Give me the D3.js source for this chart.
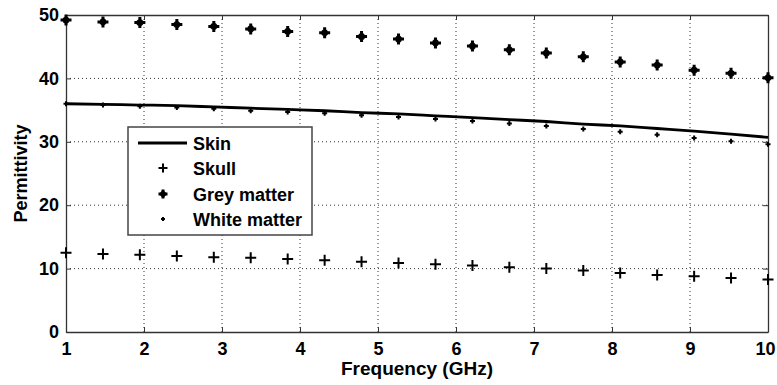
<!DOCTYPE html>
<html>
<head>
<meta charset="utf-8">
<script src="https://cdn.jsdelivr.net/npm/d3@7"></script>
<style>
  body { margin: 0; background: #fff; }
  text { font-family: Arial, "Liberation Sans", sans-serif; font-weight: bold; fill: #000; }
</style>
</head>
<body>
<svg id="chart" width="777" height="385"></svg>
<script>
// data (20 frequencies, 1..10 GHz)
const freqs = [1, 1.474, 1.947, 2.421, 2.895, 3.368, 3.842, 4.316, 4.789, 5.263,
               5.737, 6.211, 6.684, 7.158, 7.632, 8.105, 8.579, 9.053, 9.526, 10];
const skin = [36.0, 35.9, 35.8, 35.7, 35.5, 35.3, 35.1, 34.9, 34.6, 34.4,
              34.1, 33.8, 33.5, 33.2, 32.8, 32.5, 32.1, 31.7, 31.2, 30.7];
const skull = [12.5, 12.3, 12.2, 12.0, 11.8, 11.7, 11.5, 11.3, 11.1, 10.9,
               10.7, 10.5, 10.2, 10.0, 9.7, 9.3, 9.0, 8.8, 8.5, 8.3];
const grey = [49.2, 48.9, 48.8, 48.5, 48.2, 47.8, 47.4, 47.2, 46.6, 46.2,
              45.6, 45.1, 44.5, 44.0, 43.4, 42.6, 42.1, 41.3, 40.8, 40.1];
const white = [36.0, 35.8, 35.6, 35.4, 35.2, 34.9, 34.7, 34.5, 34.2, 33.9,
               33.6, 33.3, 32.9, 32.5, 32.0, 31.6, 31.1, 30.6, 30.1, 29.6];
const xTicks = [1, 2, 3, 4, 5, 6, 7, 8, 9, 10];
const yTicks = [0, 10, 20, 30, 40, 50];
const legendLabels = ["Skin", "Skull", "Grey matter", "White matter"];

const svg = d3.select("#chart");
const m = {left: 66, right: 9, top: 15, bottom: 53};
const W = 777, H = 385;

const x = d3.scaleLinear().domain([1, 10]).range([m.left, W - m.right]);
const y = d3.scaleLinear().domain([0, 50]).range([H - m.bottom, m.top]);

// grid
svg.append("g").selectAll("line").data(xTicks.slice(1, -1)).join("line")
  .attr("x1", d => x(d)).attr("x2", d => x(d))
  .attr("y1", y(0)).attr("y2", y(50))
  .attr("stroke", "#333").attr("stroke-width", 1).attr("stroke-dasharray", "1,3");
svg.append("g").selectAll("line").data(yTicks.slice(1, -1)).join("line")
  .attr("y1", d => y(d)).attr("y2", d => y(d))
  .attr("x1", x(1)).attr("x2", x(10))
  .attr("stroke", "#333").attr("stroke-width", 1).attr("stroke-dasharray", "1,3");

// axes, MATLAB style ticks pointing in
const xAxis = d3.axisBottom(x).tickValues(xTicks).tickSizeInner(-5).tickSizeOuter(0).tickPadding(10);
const yAxis = d3.axisLeft(y).tickValues(yTicks).tickSizeInner(-5).tickSizeOuter(0).tickPadding(7);

const gx = svg.append("g").attr("transform", `translate(0,${y(0)})`).call(xAxis);
const gy = svg.append("g").attr("transform", `translate(${x(1)},0)`).call(yAxis);
svg.append("g").attr("transform", `translate(0,${y(50)})`)
  .call(d3.axisTop(x).tickValues(xTicks).tickSizeInner(-5).tickSizeOuter(0).tickFormat(""));
svg.append("g").attr("transform", `translate(${x(10)},0)`)
  .call(d3.axisRight(y).tickValues(yTicks).tickSizeInner(-5).tickSizeOuter(0).tickFormat(""));

svg.selectAll(".domain").attr("stroke", "#333").attr("stroke-width", 1.3);
svg.selectAll(".tick line").attr("stroke", "#333");
svg.selectAll(".tick text").attr("font-size", null).attr("font-family", null)
  .style("font-size", "18px")
  .style("font-family", "Arial, 'Liberation Sans', sans-serif").style("font-weight", "bold");
// keep the last x label inside the window
gx.selectAll(".tick text").filter(d => d === 10).attr("dx", -3);

// axis titles
svg.append("text").attr("x", (x(1) + x(10)) / 2).attr("y", 375)
  .attr("text-anchor", "middle").style("font-size", "18px")
  .attr("textLength", 152).attr("lengthAdjust", "spacingAndGlyphs").text("Frequency (GHz)");
svg.append("text").attr("transform", `translate(27,${(y(0) + y(50)) / 2}) rotate(-90)`)
  .attr("text-anchor", "middle").style("font-size", "18px").text("Permittivity");

// markers
const plusPath = s => `M${-s},0H${s}M0,${-s}V${s}`;

function drawSkull(g, cx, cy, s = 5.5) {
  g.append("path").attr("transform", `translate(${cx},${cy})`)
    .attr("d", plusPath(s)).attr("stroke", "#000").attr("stroke-width", 2).attr("fill", "none");
}
function drawGrey(g, cx, cy, s = 5.5) {
  g.append("path").attr("transform", `translate(${cx},${cy})`)
    .attr("d", plusPath(s)).attr("stroke", "#000").attr("stroke-width", 3).attr("fill", "none");
  g.append("path").attr("transform", `translate(${cx},${cy}) rotate(45)`)
    .attr("d", plusPath(s * 0.64)).attr("stroke", "#000").attr("stroke-width", 2.5).attr("fill", "none");
}
function drawWhite(g, cx, cy, s = 2.5) {
  g.append("path").attr("transform", `translate(${cx},${cy})`)
    .attr("d", plusPath(s)).attr("stroke", "#000").attr("stroke-width", 2).attr("fill", "none");
}

const line = d3.line().x((d, i) => x(freqs[i])).y(d => y(d)).curve(d3.curveMonotoneX);
svg.append("path").datum(skin).attr("d", line)
  .attr("fill", "none").attr("stroke", "#000").attr("stroke-width", 2.8);

const marks = svg.append("g");
skull.forEach((v, i) => drawSkull(marks, x(freqs[i]), y(v)));
grey.forEach((v, i) => drawGrey(marks, x(freqs[i]), y(v)));
white.forEach((v, i) => drawWhite(marks, x(freqs[i]), y(v)));

// legend
const lg = svg.append("g");
lg.append("rect").attr("x", 128).attr("y", 127).attr("width", 184).attr("height", 108)
  .attr("fill", "#fff").attr("stroke", "#444").attr("stroke-width", 1.5);
const ly = [143, 168, 194, 219];
lg.append("line").attr("x1", 138).attr("x2", 187).attr("y1", ly[0]).attr("y2", ly[0])
  .attr("stroke", "#000").attr("stroke-width", 2.8);
drawSkull(lg, 163, ly[1], 4.5);
drawGrey(lg, 163, ly[2], 4.5);
drawWhite(lg, 163, ly[3], 2);
lg.selectAll("text.lbl").data(legendLabels).join("text").attr("class", "lbl")
  .attr("x", 193).attr("y", (d, i) => ly[i] + 7).style("font-size", "18px").text(d => d);
</script>
</body>
</html>
